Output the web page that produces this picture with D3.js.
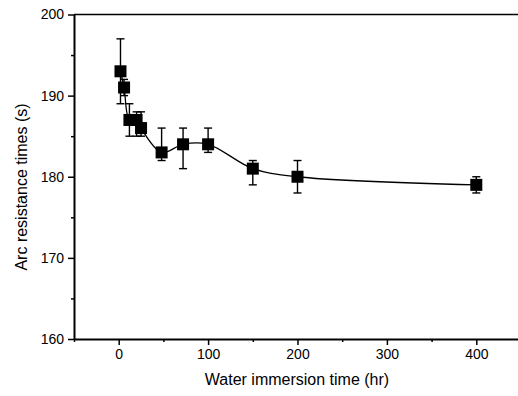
<!DOCTYPE html>
<html>
<head>
<meta charset="utf-8">
<script src="https://cdn.jsdelivr.net/npm/d3@7"></script>
<style>
  body { margin: 0; background: #fff; }
  svg { display: block; font-family: "Liberation Sans", Arial, sans-serif; }
</style>
</head>
<body>
<div id="chart"></div>
<script>
/* Arc resistance vs water immersion time */

const hours = [2, 6, 12, 20, 25, 48, 72, 100, 150, 200, 400];
const arcTime = [193, 191, 187, 187, 186, 183, 184, 184, 181, 180, 179];
const errHigh = [197, 192, 189, 188, 188, 186, 186, 186, 182, 182, 180];
const errLow = [189, 190, 185, 185, 185, 182, 181, 183, 179, 178, 178];
const xTicks = [0, 100, 200, 300, 400];
const xMinor = [-50, 50, 150, 250, 350];
const yTicks = [160, 170, 180, 190, 200];
const yMinor = [165, 175, 185, 195];

const width = 518, height = 396;
const margin = ({ top: 14.5, right: -3, bottom: 57, left: 74 });

const data = hours.map((h, i) => ({ h: h, v: arcTime[i], hi: errHigh[i], lo: errLow[i] }));

let svg = d3.select("#chart")
    .append("svg")
    .attr("width", width)
    .attr("height", height);

const x = d3.scaleLinear()
    .domain([-50, 450])
    .range([margin.left, width - margin.right]);

const y = d3.scaleLinear()
    .domain([160, 200])
    .range([height - margin.bottom, margin.top]);

// minor ticks first, majors on top
svg.append("g")
    .attr("transform", `translate(0,${y(160)})`)
    .call(d3.axisBottom(x).tickValues(xMinor).tickSize(3).tickFormat("").tickSizeOuter(0))
    .call(g => g.select(".domain").remove())
    .call(g => g.selectAll("line").attr("stroke-width", 1.5));

svg.append("g")
    .attr("transform", `translate(${x(-50)},0)`)
    .call(d3.axisLeft(y).tickValues(yMinor).tickSize(3).tickFormat("").tickSizeOuter(0))
    .call(g => g.select(".domain").remove())
    .call(g => g.selectAll("line").attr("stroke-width", 1.5));

const xAxis = g => g
    .attr("transform", `translate(0,${y(160)})`)
    .call(d3.axisBottom(x).tickValues(xTicks).tickSize(6).tickPadding(4).tickSizeOuter(0))
    .call(g => g.select(".domain").attr("stroke-width", 2))
    .call(g => g.selectAll("line").attr("stroke-width", 1.5))
    .call(g => g.selectAll("text").attr("font-size", 14).attr("fill", "#000"));

const yAxis = g => g
    .attr("transform", `translate(${x(-50)},0)`)
    .call(d3.axisLeft(y).tickValues(yTicks).tickSize(6).tickPadding(4).tickSizeOuter(0))
    .call(g => g.select(".domain").attr("stroke-width", 2))
    .call(g => g.selectAll("line").attr("stroke-width", 1.5))
    .call(g => g.selectAll("text").attr("font-size", 14).attr("fill", "#000"));

svg.append("g").call(xAxis);
svg.append("g").call(yAxis);

// top frame line
svg.append("line")
    .attr("x1", x(-50)).attr("x2", width)
    .attr("y1", y(200)).attr("y2", y(200))
    .attr("stroke", "#000")
    .attr("stroke-width", 1.5);

// axis titles
svg.append("text")
    .attr("x", 297)
    .attr("y", 385)
    .attr("text-anchor", "middle")
    .attr("font-size", 16)
    .text("Water immersion time (hr)");

svg.append("text")
    .attr("transform", "translate(27,187) rotate(-90)")
    .attr("text-anchor", "middle")
    .attr("font-size", 16)
    .text("Arc resistance times (s)");

// smooth connecting line
const line = d3.line()
    .x(d => x(d.h))
    .y(d => y(d.v))
    .curve(d3.curveCatmullRom.alpha(0.5));

svg.append("path")
    .datum(data)
    .attr("fill", "none")
    .attr("stroke", "#000")
    .attr("stroke-width", 1.3)
    .attr("d", line);

// error bars
let err = svg.selectAll(".err")
    .data(data)
    .join("g")
    .attr("class", "err")
    .attr("stroke", "#000")
    .attr("stroke-width", 1.4);

err.append("line")
    .attr("x1", d => x(d.h)).attr("x2", d => x(d.h))
    .attr("y1", d => y(d.hi)).attr("y2", d => y(d.lo));

err.append("line")
    .attr("x1", d => x(d.h) - 4).attr("x2", d => x(d.h) + 4)
    .attr("y1", d => y(d.hi)).attr("y2", d => y(d.hi));

err.append("line")
    .attr("x1", d => x(d.h) - 4).attr("x2", d => x(d.h) + 4)
    .attr("y1", d => y(d.lo)).attr("y2", d => y(d.lo));

// square markers
const s = 12;
svg.selectAll(".pt")
    .data(data)
    .join("rect")
    .attr("class", "pt")
    .attr("x", d => x(d.h) - s / 2)
    .attr("y", d => y(d.v) - s / 2)
    .attr("width", s)
    .attr("height", s)
    .attr("fill", "#000");
</script>
</body>
</html>
